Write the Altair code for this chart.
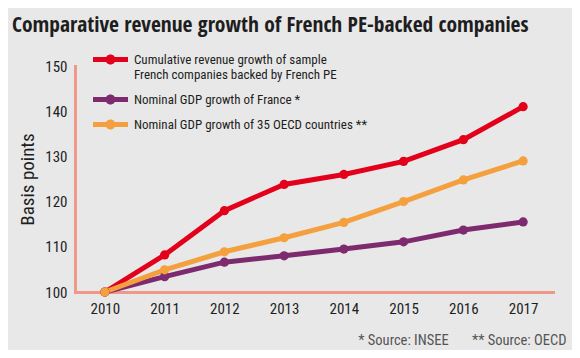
import altair as alt
import pandas as pd

years = [2010, 2011, 2012, 2013, 2014, 2015, 2016, 2017]
pe_backed = [100, 108.2, 118.0, 123.8, 126.0, 128.9, 133.7, 141.0]
gdp_france = [100, 103.4, 106.6, 108.0, 109.5, 111.1, 113.7, 115.5]
gdp_oecd = [100, 104.9, 108.9, 112.0, 115.4, 120.0, 124.8, 129.0]

series_names = [
    "Cumulative revenue growth of sample French companies backed by French PE",
    "Nominal GDP growth of France *",
    "Nominal GDP growth of 35 OECD countries **",
]
red_label_lines = ["Cumulative revenue growth of sample", "French companies backed by French PE"]
series_colors = ["#e3001b", "#7d2a6f", "#f4a03e"]
y_ticks = [100, 110, 120, 130, 140, 150]

title_text = "Comparative revenue growth of French PE-backed companies"
y_title = "Basis points"
source_text = "* Source: INSEE\u00a0\u00a0\u00a0\u00a0\u00a0\u00a0\u00a0** Source: OECD"

rows = []
for name, vals in zip(series_names, [pe_backed, gdp_france, gdp_oecd]):
    for yr, v in zip(years, vals):
        rows.append({"year": yr, "value": v, "series": name})
df = pd.DataFrame(rows)

FONT = "Roboto Condensed"
TITLE_FONT = "Open Sans Condensed"
AXIS_COL = "#f0998a"
TEXT_COL = "#1e1e1e"

label_expr = (
    "datum.label == '" + series_names[0] + "' ? ['"
    + "', '".join(red_label_lines) + "'] : datum.label"
)

sym_path = (
    "M-3.5,-0.5L3.5,-0.5L3.5,0.5L-3.5,0.5Z"
    "M1,0A1,1,0,1,1,-1,0A1,1,0,1,1,1,0Z"
)

color_scale = alt.Scale(domain=series_names, range=series_colors)

x_enc = alt.X(
    "year:O",
    scale=alt.Scale(type="point", padding=0.5),
    axis=alt.Axis(
        title=source_text,
        titleFont=FONT,
        titleFontSize=14.5,
        titleFontWeight="normal",
        titleColor="#555555",
        titleAnchor="end",
        titleAlign="right",
        titleBaseline="middle",
        titleX=491,
        titleY=48,
        labelAngle=0,
        labelFont=FONT,
        labelFontSize=15,
        labelColor=TEXT_COL,
        labelPadding=9,
        ticks=False,
        grid=False,
        domainColor=AXIS_COL,
        domainWidth=3,
        domainCap="square",
    ),
)
y_enc = alt.Y(
    "value:Q",
    scale=alt.Scale(domain=[100, 150], nice=False, zero=False),
    axis=alt.Axis(
        values=y_ticks,
        title=y_title,
        titleFont=FONT,
        titleFontSize=19,
        titleFontWeight="normal",
        titleColor=TEXT_COL,
        titleAngle=-90,
        titleBaseline="middle",
        titleX=-48,
        labelFont=FONT,
        labelFontSize=15,
        labelColor=TEXT_COL,
        labelPadding=8,
        ticks=False,
        grid=False,
        domainColor=AXIS_COL,
        domainWidth=3,
        domainCap="square",
    ),
)

legend = alt.Legend(
    title=None,
    orient="none",
    legendX=29,
    legendY=-13,
    symbolType=sym_path,
    symbolSize=100,
    symbolStrokeWidth=0,
    symbolOpacity=1,
    labelOffset=17,
    labelFont=FONT,
    labelFontSize=13,
    labelColor=TEXT_COL,
    labelLimit=0,
    labelExpr=label_expr,
    rowPadding=11,
)

lines = alt.Chart(df).mark_line(strokeWidth=5).encode(
    x=x_enc,
    y=y_enc,
    color=alt.Color("series:N", scale=color_scale, legend=legend),
    detail="series:N",
)
points = alt.Chart(df).mark_circle(size=85, opacity=1).encode(
    x=x_enc,
    y=y_enc,
    color=alt.Color("series:N", scale=color_scale, legend=legend),
)
title = alt.Chart(pd.DataFrame({"t": [title_text]})).mark_text(
    font=TITLE_FONT,
    fontSize=21.5,
    fontWeight="bold",
    color=TEXT_COL,
    align="left",
    baseline="alphabetic",
).encode(text="t:N", x=alt.value(-63), y=alt.value(-34))

chart = (
    alt.layer(lines, points, title)
    .properties(
        width=478,
        height=226,
        autosize=alt.AutoSizeParams(type="none"),
        padding={"left": 67, "top": 58, "right": 19, "bottom": 58},
        background="#e8e8e8",
    )
    .configure_view(stroke=None)
)

chart.save("out.html", embed_options={"renderer": "svg", "actions": False})
